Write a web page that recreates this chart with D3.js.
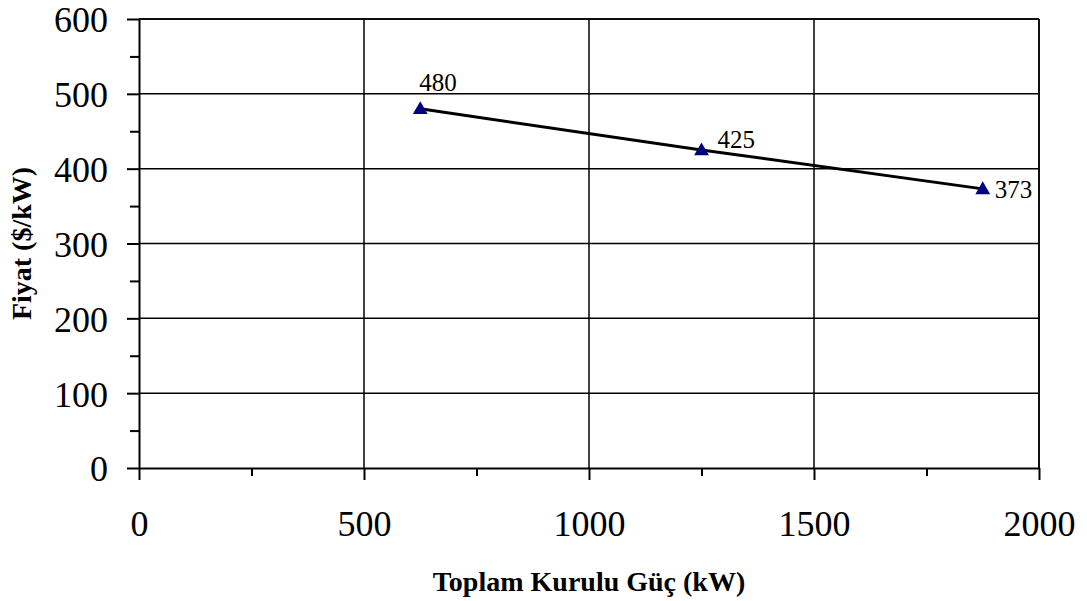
<!DOCTYPE html>
<html>
<head>
<meta charset="utf-8">
<script src="https://cdn.jsdelivr.net/npm/d3@7"></script>
<style>
  html, body { margin: 0; padding: 0; background: #fff; }
  svg { display: block; }
  svg text { font-family: "Liberation Serif", "Times New Roman", serif; fill: #000; }
</style>
</head>
<body>
<svg id="chart" width="1087" height="601"></svg>
<script>
// Installed capacity (kW) vs. unit price ($/kW)
const capacity = [625, 1250, 1875];
const price = [480, 425, 373];
const xTicks = [0, 500, 1000, 1500, 2000];
const yTicks = [0, 100, 200, 300, 400, 500, 600];
const xTitle = "Toplam Kurulu Güç (kW)";
const yTitle = "Fiyat ($/kW)";

// label placement relative to each marker
const labelOffsets = [[-1, -18, "start"], [16, -2, "start"], [12, 9, "start"]];

const svg = d3.select("#chart");
const plotL = 139, plotR = 1039, plotT = 19, plotB = 468;

const x = d3.scaleLinear().domain([0, 2000]).range([plotL, plotR]);
const y = d3.scaleLinear().domain([0, 600]).range([plotB, plotT]);
const fmt = d3.format("d");

// horizontal gridlines
svg.append("g").selectAll("line").data(yTicks.filter(d => d > 0)).join("line")
  .attr("x1", plotL).attr("x2", plotR)
  .attr("y1", d => y(d)).attr("y2", d => y(d))
  .attr("stroke", "#000").attr("stroke-width", 1.5);

// vertical gridlines
svg.append("g").selectAll("line").data(xTicks.filter(d => d > 0)).join("line")
  .attr("x1", d => x(d)).attr("x2", d => x(d))
  .attr("y1", plotT).attr("y2", plotB)
  .attr("stroke", "#000").attr("stroke-width", 1.5);

// y axis with major and minor ticks
const yMinor = svg.append("g").attr("transform", `translate(${plotL},0)`)
  .call(d3.axisLeft(y).tickValues(d3.range(50, 600, 100)).tickSize(9).tickFormat(""));
yMinor.select(".domain").remove();
const yMajor = svg.append("g").attr("transform", `translate(${plotL},0)`)
  .call(d3.axisLeft(y).tickValues(yTicks).tickFormat(fmt).tickSize(12).tickPadding(19).tickSizeOuter(0));
[yMinor, yMajor].forEach(g => {
  g.attr("font-family", null);
  g.selectAll("line").attr("stroke", "#000").attr("stroke-width", 2);
  g.selectAll(".domain").attr("stroke", "#000").attr("stroke-width", 2);
});
yMajor.selectAll("text")
  .style("font-size", "36px").attr("dy", "0.36em");

// x axis with major and minor ticks
const xMinor = svg.append("g").attr("transform", `translate(0,${plotB})`)
  .call(d3.axisBottom(x).tickValues([250, 750, 1250, 1750]).tickSize(8).tickFormat(""));
xMinor.select(".domain").remove();
const xMajor = svg.append("g").attr("transform", `translate(0,${plotB})`)
  .call(d3.axisBottom(x).tickValues(xTicks).tickFormat(fmt).tickSize(12).tickPadding(30).tickSizeOuter(0));
[xMinor, xMajor].forEach(g => {
  g.attr("font-family", null);
  g.selectAll("line").attr("stroke", "#000").attr("stroke-width", 2);
  g.selectAll(".domain").attr("stroke", "#000").attr("stroke-width", 2);
});
xMajor.selectAll("text").style("font-size", "36px");

// top and right frame
svg.append("line").attr("x1", plotL).attr("x2", plotR).attr("y1", plotT).attr("y2", plotT)
  .attr("stroke", "#000").attr("stroke-width", 1.5);
svg.append("line").attr("x1", plotR).attr("x2", plotR).attr("y1", plotT).attr("y2", plotB)
  .attr("stroke", "#000").attr("stroke-width", 1.5);

// price line
const pts = capacity.map((c, i) => ({ c, p: price[i], off: labelOffsets[i] }));
svg.append("path").datum(pts)
  .attr("d", d3.line().x(d => x(d.c)).y(d => y(d.p)))
  .attr("fill", "none").attr("stroke", "#000").attr("stroke-width", 3);

// triangle markers
const tri = d3.symbol().type(d3.symbolTriangle).size(95);
svg.append("g").selectAll("path").data(pts).join("path")
  .attr("d", tri)
  .attr("transform", d => `translate(${x(d.c)},${y(d.p) + 1})`)
  .attr("fill", "#000080");

// value labels
svg.append("g").selectAll("text").data(pts).join("text")
  .attr("x", d => x(d.c) + d.off[0])
  .attr("y", d => y(d.p) + d.off[1])
  .attr("text-anchor", d => d.off[2])
  .style("font-size", "25px")
  .text(d => d.p);

// axis titles
svg.append("text")
  .attr("x", (plotL + plotR) / 2).attr("y", 591)
  .attr("text-anchor", "middle").attr("font-weight", "bold").style("font-size", "28px")
  .text(xTitle);
svg.append("text")
  .attr("transform", `translate(31,${(plotT + plotB) / 2}) rotate(-90)`)
  .attr("text-anchor", "middle").attr("font-weight", "bold").style("font-size", "28px")
  .text(yTitle);
</script>
</body>
</html>
